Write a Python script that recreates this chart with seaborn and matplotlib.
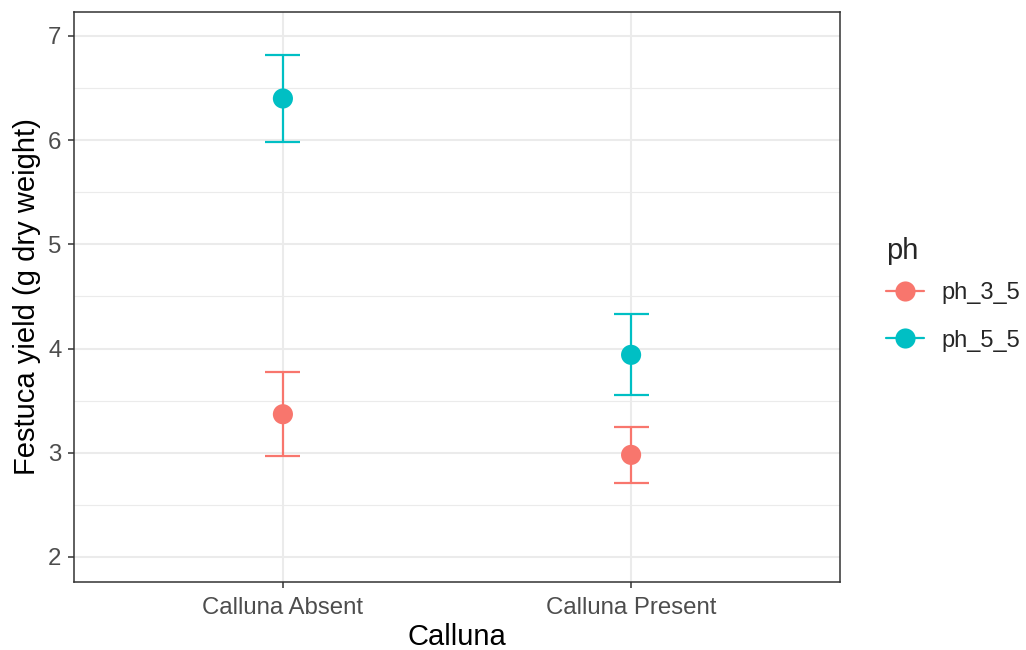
import matplotlib
matplotlib.use("Agg")
import matplotlib.pyplot as plt
import seaborn as sns
import pandas as pd
from matplotlib.lines import Line2D
from matplotlib.ticker import MultipleLocator

# Mean Festuca yield with error bounds per Calluna treatment and pH level
calluna = ["Calluna Absent", "Calluna Absent", "Calluna Present", "Calluna Present"]
ph = ["ph_3_5", "ph_5_5", "ph_3_5", "ph_5_5"]
mean_yield = [3.37, 6.40, 2.98, 3.94]
lower = [2.97, 5.98, 2.71, 3.55]
upper = [3.78, 6.82, 3.25, 4.33]

categories = ["Calluna Absent", "Calluna Present"]
ph_levels = ["ph_3_5", "ph_5_5"]
palette = {"ph_3_5": "#F8766D", "ph_5_5": "#00BFC4"}

df = pd.DataFrame({"Calluna": calluna, "ph": ph, "yield": mean_yield,
                   "lo": lower, "hi": upper})
df["Calluna"] = pd.Categorical(df["Calluna"], categories=categories)

sns.set_theme(style="white")
plt.rcParams["font.family"] = ["Liberation Sans", "DejaVu Sans"]

fig = plt.figure(figsize=(10.26, 6.5), dpi=100)
ax = fig.add_axes([74 / 1026, 68 / 650, 766 / 1026, 570 / 650])

# grid lines in ggplot theme_bw style
ax.set_axisbelow(True)
ax.yaxis.set_minor_locator(MultipleLocator(0.5))
ax.grid(which="major", color="#EBEBEB", linewidth=1.5)
ax.grid(which="minor", axis="y", color="#EBEBEB", linewidth=0.8)

# error bars with caps
pos = {c: i for i, c in enumerate(categories)}
cap = 0.05
for _, r in df.iterrows():
    x = pos[r["Calluna"]]
    col = palette[r["ph"]]
    ax.vlines(x, r["lo"], r["hi"], color=col, linewidth=1.6, zorder=2)
    ax.hlines([r["lo"], r["hi"]], x - cap, x + cap, color=col, linewidth=1.6, zorder=2)

sns.scatterplot(data=df, x="Calluna", y="yield", hue="ph", hue_order=ph_levels,
                palette=palette, s=210, edgecolor="none", legend=False,
                ax=ax, zorder=3)

ax.set_xlim(-0.6, 1.6)
ax.set_ylim(1.76, 7.23)
ax.set_xticks(range(len(categories)))
ax.set_xticklabels(categories)
ax.set_yticks([2, 3, 4, 5, 6, 7])
ax.set_xlabel("Calluna", fontsize=21, color="black", labelpad=3)
ax.set_ylabel("Festuca yield (g dry weight)", fontsize=21, color="black", labelpad=5)

ax.tick_params(axis="both", which="major", labelsize=17.3, labelcolor="#4D4D4D",
               color="#333333", length=4.5, width=1.1, direction="out",
               bottom=True, left=True)
ax.tick_params(axis="x", which="major", pad=6)
ax.tick_params(axis="y", which="major", pad=4.5)
ax.tick_params(axis="y", which="minor", length=0)
for s in ax.spines.values():
    s.set_color("#333333")
    s.set_linewidth(1.1)

handles = [Line2D([0], [0], color=palette[p], marker="o", markersize=14.5,
                  linewidth=1.6, markeredgewidth=0) for p in ph_levels]
leg = fig.legend(handles, ph_levels, title="ph", loc="upper left",
                 bbox_to_anchor=(877 / 1026, 1 - 228 / 650), frameon=False,
                 fontsize=17, title_fontsize=21, handlelength=1.57,
                 labelspacing=1.08, handletextpad=0.76, borderaxespad=0)
leg._legend_box.align = "left"
leg._legend_box.sep = 12

fig.savefig("out.png", dpi=100)
